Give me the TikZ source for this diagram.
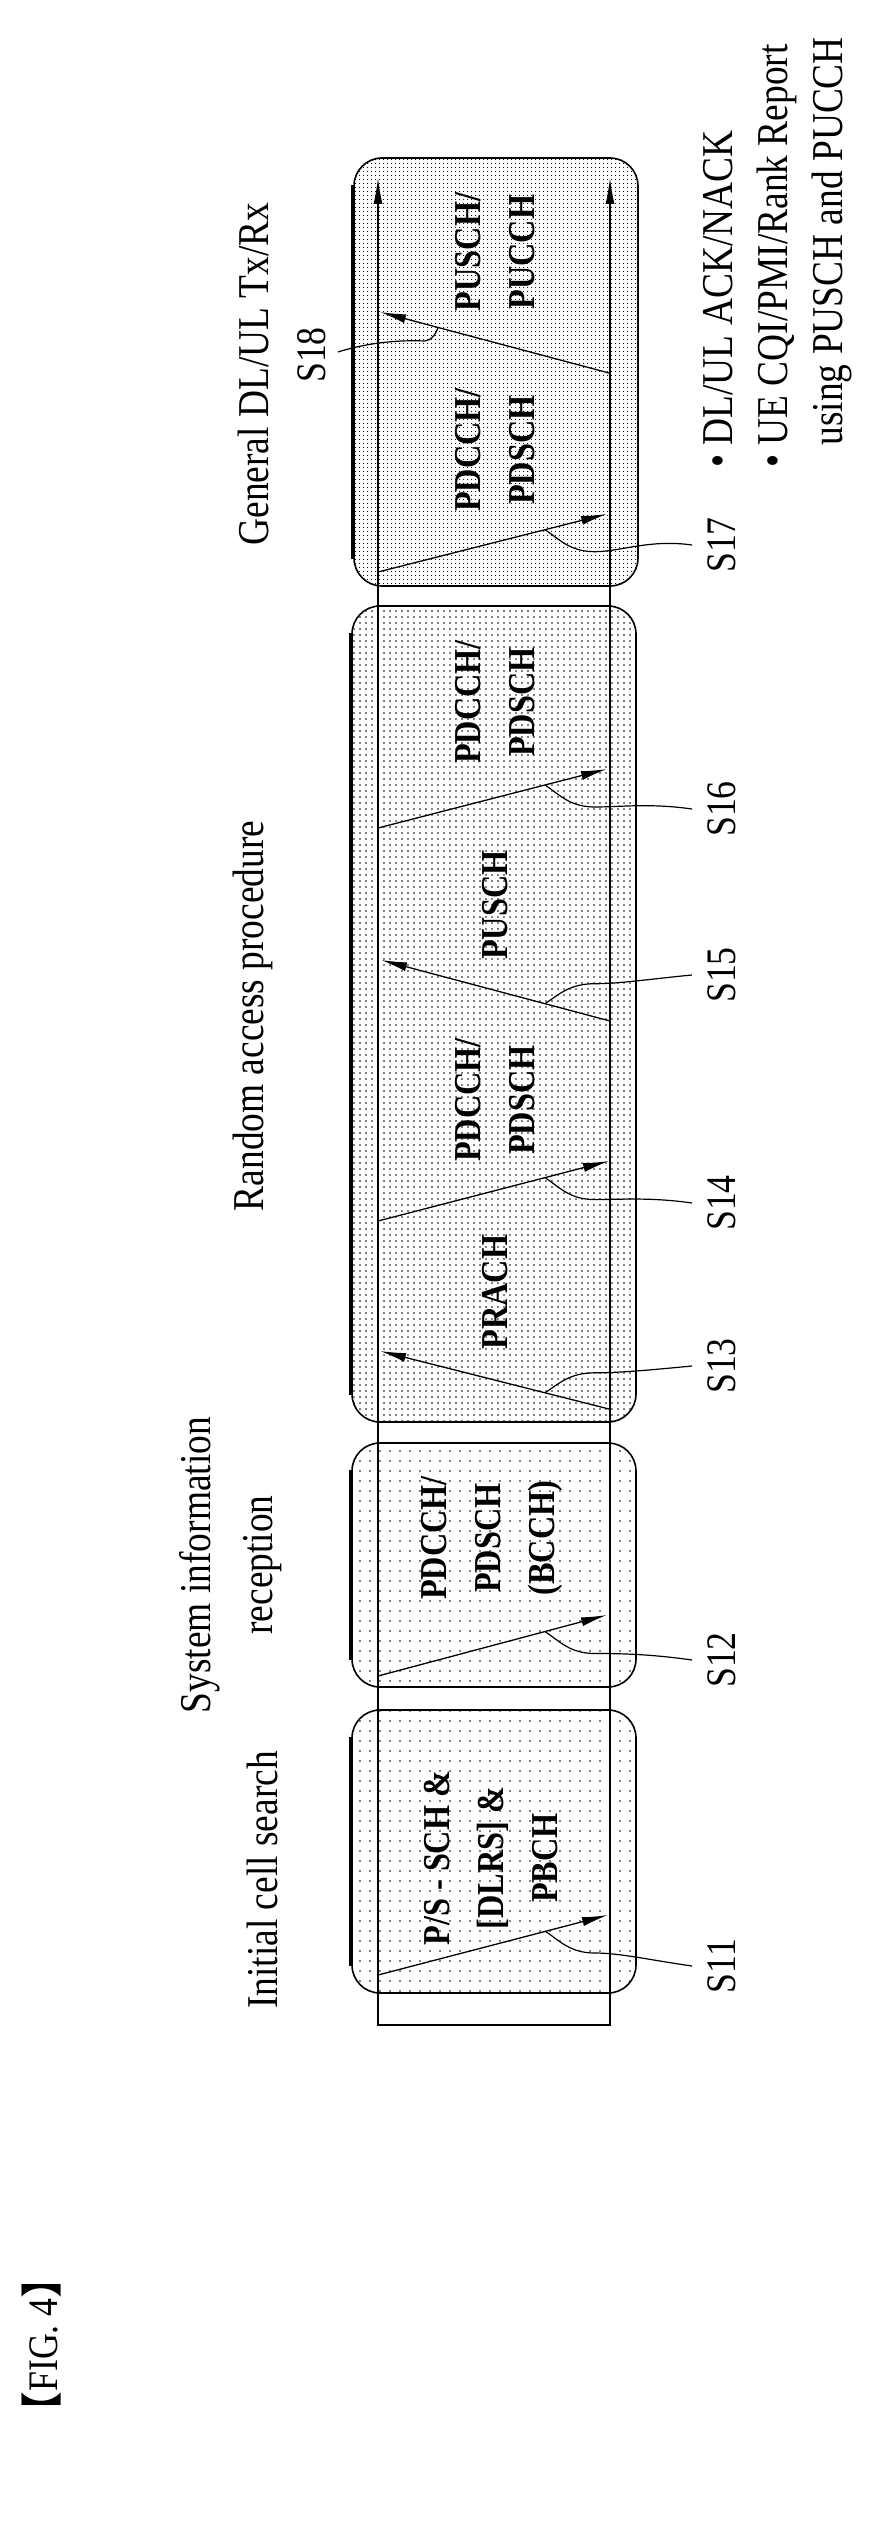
\documentclass[tikz,border=0pt]{standalone}
\usepackage{fontspec}
\setmainfont[FakeStretch=0.85]{Liberation Serif}
\newfontfamily\cjk{Noto Sans CJK SC}
\usetikzlibrary{arrows.meta,patterns.meta}
\begin{document}
\begin{tikzpicture}[x=1pt,y=-1pt,
  box/.style={draw,line width=1.6pt,rounded corners=28pt,minimum width=284pt,inner sep=0pt},
  sparse/.style={pattern={Dots[distance=10pt,radius=0.9pt]}},
  dense/.style={pattern={Dots[distance=6pt,radius=0.8pt]}},
  denser/.style={pattern={Dots[distance=4pt,radius=0.7pt]}},
  thickedge/.style={line width=4.5pt},
  sig/.style={line width=1.3pt,-{Latex[length=26pt,width=9pt]}},
  rail/.style={line width=1.1pt},
  lead/.style={line width=1.2pt},
  title/.style={rotate=90,font=\fontsize{44}{62}\selectfont,align=center,inner sep=0pt},
  intext/.style={rotate=90,font=\fontsize{38}{54}\selectfont\bfseries,align=center,inner sep=0pt},
  steplbl/.style={rotate=90,font=\fontsize{42}{44}\selectfont,inner sep=0pt}]
\useasboundingbox (0,0) rectangle (878,2531);
% boxes
\node[box,sparse,minimum height=283pt] (b1) at (494,1851.5) {};
\node[box,sparse,minimum height=244pt] (b2) at (494,1565) {};
\node[box,dense,minimum height=816pt] (b3) at (494,1014) {};
\node[box,denser,minimum height=428pt] (b4) at (496,372) {};
\foreach \b in {b1,b2,b3,b4}
  \draw[thickedge] ([yshift=-28pt]\b.north west) -- ([yshift=28pt]\b.south west);
% rails
\coordinate (tl) at (378,178); \coordinate (bl) at (378,2025);
\coordinate (br) at (610,2025); \coordinate (tr) at (610,178);
\draw[rail,{Latex[length=26pt,width=9pt]}-{Latex[length=26pt,width=9pt]}] (tl) -- (bl) -- (br) -- (tr);
% signal arrows
\coordinate (s11) at (378,1975); \coordinate (e11) at (608,1915);
\coordinate (s12) at (378,1676); \coordinate (e12) at (607,1615);
\coordinate (s13) at (609,1409); \coordinate (e13) at (380,1351);
\coordinate (s14) at (378,1221); \coordinate (e14) at (609,1161);
\coordinate (s15) at (610,1021); \coordinate (e15) at (381,960);
\coordinate (s16) at (378,828);  \coordinate (e16) at (607,769);
\coordinate (s17) at (378,572);  \coordinate (e17) at (607,514);
\coordinate (s18) at (609,373);  \coordinate (e18) at (380,312);
\foreach \i in {11,...,18} \draw[sig] (s\i) -- (e\i);
% box texts
\node[intext] (t1) at (491,1858) {P/S - SCH \&\\{[DLRS] \&}\\PBCH};
\node[intext] (t2) at (492,1538) {PDCCH/\\PDSCH\\(BCCH)};
\node[intext] (t3) at (495,1292) {PRACH};
\node[intext] (t4) at (495,1100) {PDCCH/\\PDSCH};
\node[intext] (t5) at (495,905) {PUSCH};
\node[intext] (t6) at (495,702) {PDCCH/\\PDSCH};
\node[intext] (t7) at (495,450) {PDCCH/\\PDSCH};
\node[intext] (t8) at (495,252) {PUSCH/\\PUCCH};
% titles
\node[title] (h1) at (262,1880) {Initial cell search};
\node[title] (h2) at (231,1565) {System information\\reception};
\node[title] (h3) at (253,1016) {Random access procedure};
\node[title] (h4) at (253,374) {General DL/UL Tx/Rx};
% step labels
\node[steplbl] (S11) at (722,1966) {S11};
\node[steplbl] (S12) at (722,1660) {S12};
\node[steplbl] (S13) at (722,1366) {S13};
\node[steplbl] (S14) at (722,1203) {S14};
\node[steplbl] (S15) at (722,975) {S15};
\node[steplbl] (S16) at (722,809) {S16};
\node[steplbl] (S17) at (722,545) {S17};
\node[steplbl] (S18) at (312,355) {S18};
% leaders (downlink)
\foreach \i/\yl/\ya in {11/1966/1931,12/1660/1631.5,14/1203/1177.6,16/809/785,17/545/529.7}{
  \coordinate (l\i) at (692,\yl); \coordinate (a\i) at (545,\ya);
  \pgfmathsetmacro\ym{\ya+22}
  \draw[lead] (l\i) .. controls (650,\yl-6) and (620,\ym) .. (595,\ym) .. controls (570,\ym) and (560,\ya+10) .. (a\i);
}
% leaders (uplink)
\foreach \i/\yl/\ya in {13/1366/1392.8,15/975/1003.7}{
  \coordinate (l\i) at (692,\yl); \coordinate (a\i) at (545,\ya);
  \pgfmathsetmacro\ym{\ya-20}
  \draw[lead] (l\i) .. controls (650,\yl+4) and (620,\ym) .. (595,\ym) .. controls (570,\ym) and (560,\ya-10) .. (a\i);
}
\coordinate (l18) at (338,352); \coordinate (a18) at (438,327.5);
\draw[lead] (l18) .. controls (370,342) and (400,340) .. (425,341) .. controls (432,340) and (436,334) .. (a18);
% bullets
\node[rotate=90,anchor=north west,inner sep=0pt,align=left,font=\fontsize{44}{55}\selectfont] (bul) at (703,468)
 {• DL/UL ACK/NACK\\• UE CQI/PMI/Rank Report\\\phantom{• }using PUSCH and PUCCH};
% figure label
\node[rotate=90,inner sep=0pt,font=\fontsize{42}{44}\selectfont] (fig) at (42,2345) {{\cjk 【}FIG. 4{\cjk 】}};
\end{tikzpicture}
\end{document}
